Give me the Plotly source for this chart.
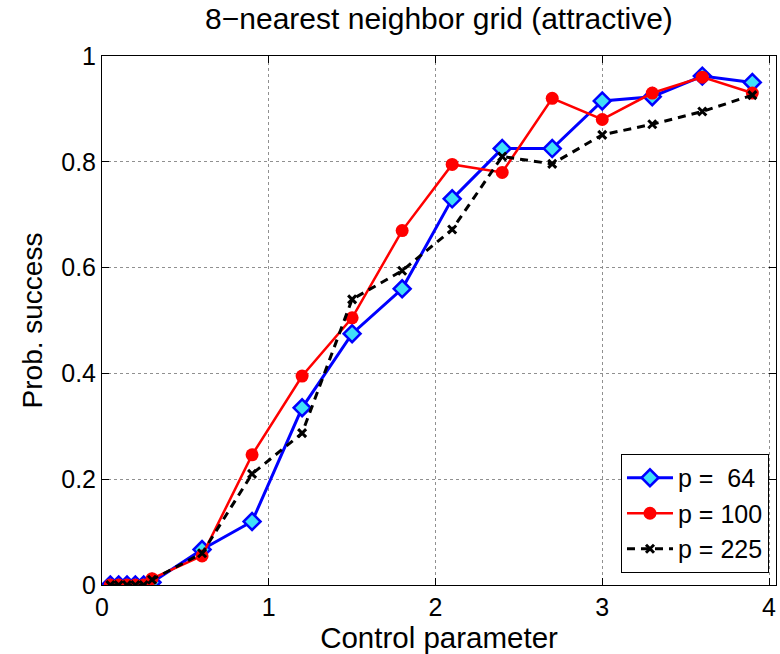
import plotly.graph_objects as go

x_vals = [0.05, 0.1, 0.15, 0.2, 0.25, 0.3, 0.6, 0.9, 1.2, 1.5, 1.8, 2.1, 2.4, 2.7, 3.0, 3.3, 3.6, 3.9]
p64 = [0, 0, 0, 0, 0, 0.005, 0.067, 0.12, 0.335, 0.475, 0.56, 0.73, 0.825, 0.825, 0.915, 0.923, 0.962, 0.95]
p100 = [0, 0, 0, 0, 0, 0.012, 0.055, 0.246, 0.395, 0.505, 0.67, 0.795, 0.78, 0.92, 0.88, 0.93, 0.96, 0.93]
p225 = [0, 0, 0, 0, 0, 0.01, 0.06, 0.21, 0.287, 0.54, 0.594, 0.672, 0.81, 0.796, 0.851, 0.871, 0.895, 0.926]

names = ["p =\u00a0\u00a064", "p = 100", "p = 225"]
x_ticks = [0, 1, 2, 3, 4]
y_ticks = [0, 0.2, 0.4, 0.6, 0.8, 1]

FONT = "Liberation Sans, Arial, sans-serif"

fig = go.Figure()
fig.add_trace(go.Scatter(
    x=x_vals, y=p64, name=names[0], mode="lines+markers",
    line=dict(color="#0000ff", width=3),
    marker=dict(symbol="diamond", size=13, color="#40e0f8", line=dict(color="#0000ff", width=2.5)),
    legendgroup="a"))
fig.add_trace(go.Scatter(
    x=x_vals, y=p100, name=names[1], mode="lines+markers",
    line=dict(color="#ff0000", width=2.5),
    marker=dict(symbol="circle", size=13, color="#ff0000", line=dict(color="#ff0000", width=0)),
    legendgroup="b"))
fig.add_trace(go.Scatter(
    x=x_vals, y=p225, name=names[2], mode="lines+markers",
    line=dict(color="#000000", width=3, dash="8px,6px"),
    marker=dict(symbol="x-thin", size=8, color="#000000", line=dict(color="#000000", width=3)),
    legendgroup="c"))

axis_common = dict(
    showline=True, linecolor="black", linewidth=1, mirror="allticks",
    ticks="inside", ticklen=7, tickcolor="black", tickwidth=1,
    showgrid=True, gridcolor="#909090", griddash="dot", gridwidth=1,
    zeroline=False, tickfont=dict(family=FONT, size=25, color="black"),
)

fig.update_xaxes(range=[0, 4.042], tickvals=x_ticks, ticktext=[str(v) for v in x_ticks],
                 title=dict(text="Control parameter", font=dict(family=FONT, size=29.5, color="black"), standoff=4),
                 **axis_common)
fig.update_yaxes(range=[0, 1], tickvals=y_ticks, ticktext=["0", "0.2", "0.4", "0.6", "0.8", "1"],
                 title=dict(text="Prob. success", font=dict(family=FONT, size=28, color="black"), standoff=10),
                 **axis_common)

fig.update_layout(
    width=780, height=654,
    margin=dict(l=102, r=4, t=56, b=69, pad=0),
    paper_bgcolor="white", plot_bgcolor="white",
    title=dict(text="8\u2212nearest neighbor grid (attractive)", x=0.5628, xanchor="center",
               y=0.988, yanchor="top", font=dict(family=FONT, size=30, color="black")),
    showlegend=True,
    legend=dict(x=0.9896, xanchor="right", y=0.0227, yanchor="bottom",
                bgcolor="white", bordercolor="black", borderwidth=1,
                font=dict(family=FONT, size=25, color="black"),
                tracegroupgap=0, itemwidth=46),
)

fig.write_html("out.html")
